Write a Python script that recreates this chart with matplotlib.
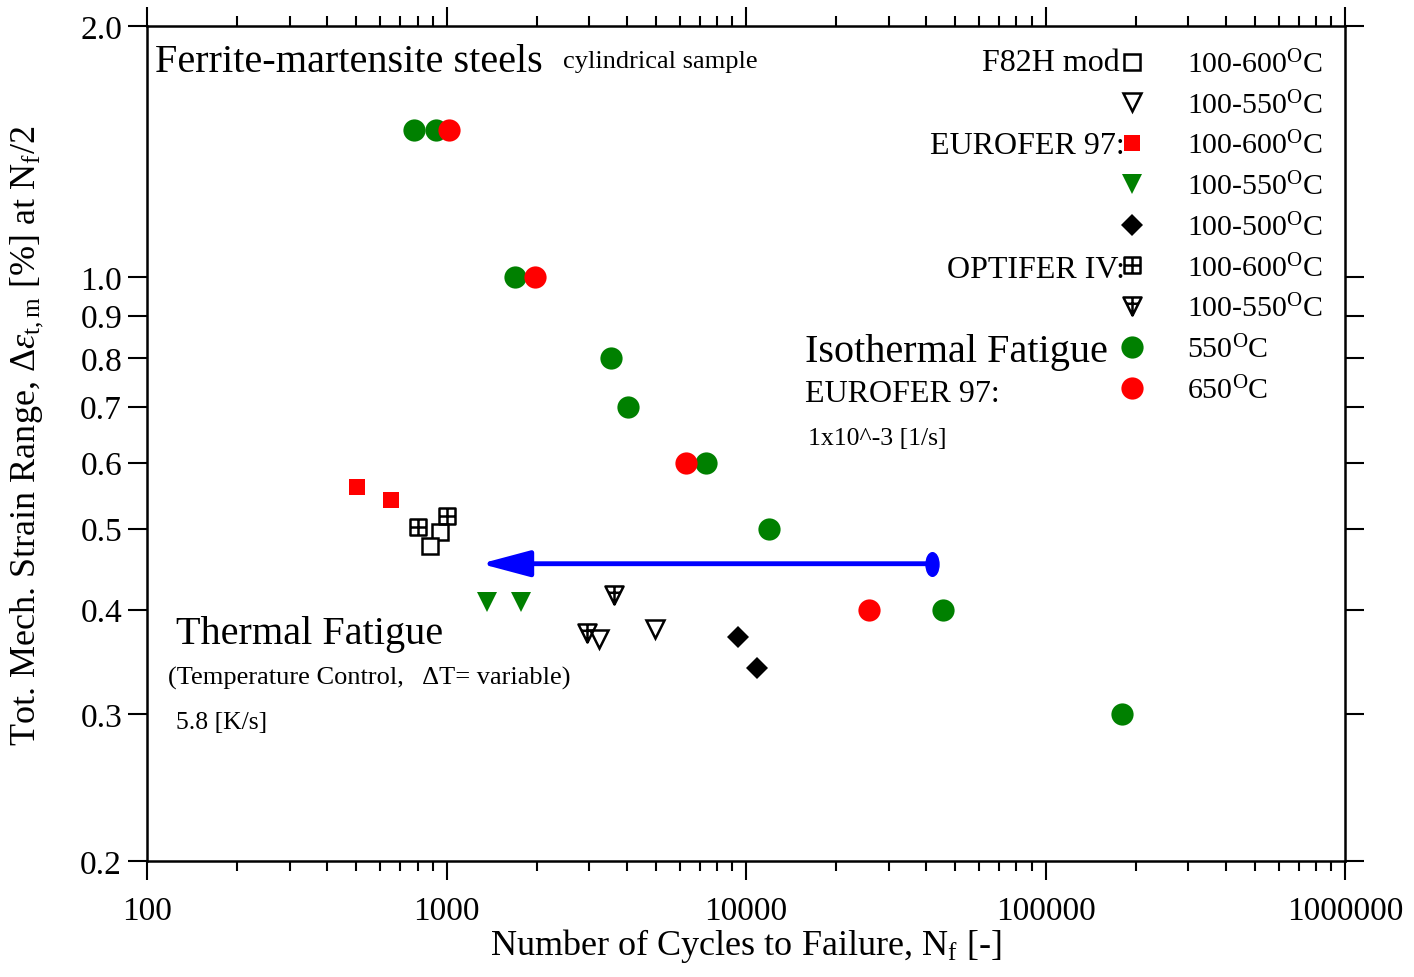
import numpy as np
import matplotlib
matplotlib.use("Agg")
import matplotlib.pyplot as plt
from matplotlib.path import Path
from matplotlib.ticker import FixedLocator, NullLocator, FixedFormatter

plt.rcParams['font.family'] = ['Liberation Serif', 'DejaVu Serif']
plt.rcParams['mathtext.fontset'] = 'custom'
plt.rcParams['mathtext.rm'] = 'Liberation Serif'
plt.rcParams['mathtext.it'] = 'Liberation Serif:italic'

# ---- data ----
# isothermal fatigue, EUROFER 97
iso550_n = [780, 925, 1690, 3540, 4040, 7350, 11900, 45500, 180000]
iso550_e = [1.50, 1.50, 1.00, 0.80, 0.70, 0.60, 0.50, 0.40, 0.30]
iso650_n = [1020, 1975, 6300, 25800]
iso650_e = [1.50, 1.00, 0.60, 0.40]

# thermal fatigue
f82h_600_n = [951, 881]
f82h_600_e = [0.495, 0.477]
f82h_550_n = [3230, 4970]
f82h_550_e = [0.369, 0.379]
euro_600_n = [502, 653]
euro_600_e = [0.561, 0.541]
euro_550_n = [1365, 1775]
euro_550_e = [0.409, 0.409]
euro_500_n = [9400, 10880]
euro_500_e = [0.371, 0.341]
opti_600_n = [803, 1004]
opti_600_e = [0.502, 0.518]
opti_550_n = [3620, 2945]
opti_550_e = [0.417, 0.375]

# arrow isothermal -> thermal
arrow_n = [41800, 1300]
arrow_e = [0.454, 0.454]

ytick_vals = [0.2, 0.3, 0.4, 0.5, 0.6, 0.7, 0.8, 0.9, 1.0, 2.0]
xtick_vals = [100, 1000, 10000, 100000, 1000000]

# ---- custom markers ----
sq_cross = Path([(-1, -1), (1, -1), (1, 1), (-1, 1), (-1, -1),
                 (0, -1), (0, 1), (-1, 0), (1, 0)],
                [Path.MOVETO, Path.LINETO, Path.LINETO, Path.LINETO, Path.CLOSEPOLY,
                 Path.MOVETO, Path.LINETO, Path.MOVETO, Path.LINETO])
tri_cross = Path([(-1, 1), (1, 1), (0, -1), (-1, 1),
                  (-0.65, 0.3), (0.65, 0.3), (0, 1), (0, -1)],
                 [Path.MOVETO, Path.LINETO, Path.LINETO, Path.CLOSEPOLY,
                  Path.MOVETO, Path.LINETO, Path.MOVETO, Path.LINETO])
circ = Path.unit_circle()
ellipse = Path(circ.vertices * np.array([0.55, 1.0]), circ.codes)

deg = r'$^{\mathrm{O}}$C'

fig = plt.figure(figsize=(14.14, 9.78), dpi=100)
ax = fig.add_axes([0.104, 0.1186, 0.8472, 0.8538])

h1, = ax.plot(f82h_600_n, f82h_600_e, ls='none', marker='s', ms=11, mfc='white',
              mec='black', mew=1.8, label='100-600' + deg)
h2, = ax.plot(f82h_550_n, f82h_550_e, ls='none', marker='v', ms=13, mfc='white',
              mec='black', mew=1.8, label='100-550' + deg)
h3, = ax.plot(euro_600_n, euro_600_e, ls='none', marker='s', ms=12, mfc='red',
              mec='red', mew=0, label='100-600' + deg)
h4, = ax.plot(euro_550_n, euro_550_e, ls='none', marker='v', ms=15, mfc='green',
              mec='green', mew=0, label='100-550' + deg)
h5, = ax.plot(euro_500_n, euro_500_e, ls='none', marker='D', ms=11, mfc='black',
              mec='black', mew=0, label='100-500' + deg)
h6, = ax.plot(opti_600_n, opti_600_e, ls='none', marker=sq_cross, ms=11, mfc='none',
              mec='black', mew=1.8, label='100-600' + deg)
h7, = ax.plot(opti_550_n, opti_550_e, ls='none', marker=tri_cross, ms=13, mfc='none',
              mec='black', mew=1.8, label='100-550' + deg)
h8, = ax.plot(iso550_n, iso550_e, ls='none', marker='o', ms=16, mfc='green',
              mec='green', mew=0, label='550' + deg)
h9, = ax.plot(iso650_n, iso650_e, ls='none', marker='o', ms=16, mfc='red',
              mec='red', mew=0, label='650' + deg)

# blue arrow with ellipse at start
ax.annotate('', xy=(arrow_n[1], arrow_e[1]), xytext=(arrow_n[0], arrow_e[0]),
            arrowprops=dict(arrowstyle='-|>,head_length=1.5,head_width=0.4',
                            color='blue', lw=3.5, shrinkA=0, shrinkB=0,
                            mutation_scale=20))
ax.plot(arrow_n[:1], arrow_e[:1], ls='none', marker=ellipse, ms=17, color='blue')

ax.set_xscale('log')
ax.set_yscale('log')
ax.set_xlim(100, 1000000)
ax.set_ylim(0.2, 2.0)

ax.xaxis.set_major_locator(FixedLocator(xtick_vals))
ax.xaxis.set_major_formatter(FixedFormatter([str(v) for v in xtick_vals]))
ax.yaxis.set_major_locator(FixedLocator(ytick_vals))
ax.yaxis.set_major_formatter(FixedFormatter(['%.1f' % v for v in ytick_vals]))
ax.yaxis.set_minor_locator(NullLocator())

for s in ax.spines.values():
    s.set_linewidth(1.8)
ax.tick_params(which='both', direction='out', top=True, right=True, width=1.5)
ax.tick_params(which='major', length=14, labelsize=24, pad=4)
ax.tick_params(axis='x', which='major', pad=11)
ax.tick_params(which='minor', length=7)
ax.tick_params(axis='y', which='major', right=True, labelright=False)

ax.set_xlabel('Number of Cycles to Failure, N$_{\\mathrm{f}}$ [-]', fontsize=26, labelpad=0)
ax.set_ylabel('Tot. Mech. Strain Range, $\\Delta\\epsilon_{\\mathrm{t,m}}$ [%] at N$_{\\mathrm{f}}$/2',
              fontsize=26, labelpad=2)
ax.yaxis.set_label_coords(-0.085, 0.51)

# legend
leg = ax.legend(handles=[h1, h2, h3, h4, h5, h6, h7, h8, h9], loc='upper left',
                bbox_to_anchor=(0.7997, 0.986), frameon=False, fontsize=21.5,
                handlelength=1.0, handletextpad=1.34, labelspacing=0.41,
                borderaxespad=0, numpoints=1)

# annotations
ax.text(0.007, 0.957, 'Ferrite-martensite steels', transform=ax.transAxes,
        fontsize=29, va='center', ha='left')
ax.text(0.347, 0.958, 'cylindrical sample', transform=ax.transAxes,
        fontsize=19, va='center', ha='left')
ax.text(0.812, 0.956, 'F82H mod', transform=ax.transAxes,
        fontsize=23, va='center', ha='right')
ax.text(0.816, 0.857, 'EUROFER 97:', transform=ax.transAxes,
        fontsize=23, va='center', ha='right')
ax.text(0.816, 0.708, 'OPTIFER IV:', transform=ax.transAxes,
        fontsize=23, va='center', ha='right')
ax.text(0.549, 0.610, 'Isothermal Fatigue', transform=ax.transAxes,
        fontsize=29, va='center', ha='left')
ax.text(0.549, 0.560, 'EUROFER 97:', transform=ax.transAxes,
        fontsize=23, va='center', ha='left')
ax.text(0.552, 0.506, '1x10^-3 [1/s]', transform=ax.transAxes,
        fontsize=18.5, va='center', ha='left')
ax.text(0.024, 0.272, 'Thermal Fatigue', transform=ax.transAxes,
        fontsize=29, va='center', ha='left')
ax.text(0.0175, 0.220, '(Temperature Control,   \u0394T= variable)', transform=ax.transAxes,
        fontsize=19, va='center', ha='left')
ax.text(0.024, 0.166, '5.8 [K/s]', transform=ax.transAxes,
        fontsize=18.5, va='center', ha='left')

fig.savefig('out.png', dpi=100)
